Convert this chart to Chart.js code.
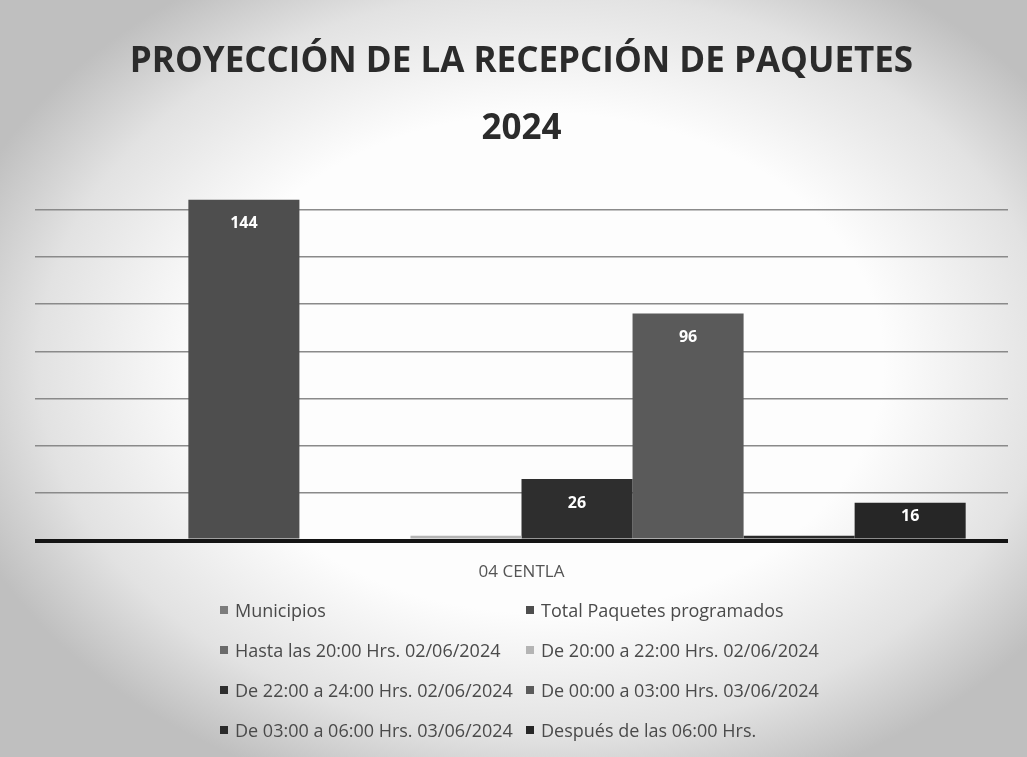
<!DOCTYPE html>
<html lang="es">
<head>
<meta charset="utf-8">
<title>Proyección de la recepción de paquetes 2024</title>
<script src="https://cdn.jsdelivr.net/npm/chart.js@4.4.1/dist/chart.umd.min.js"></script>
<style>
    html, body {
        margin: 0;
        padding: 0;
        width: 1027px;
        height: 757px;
        overflow: hidden;
    }
    body {
        position: relative;
        background: radial-gradient(ellipse 60% 60% at 53% 48%, #fdfdfd 55%, #e2e2e2 82%, #bfbfbf 100%);
        font-family: "Open Sans", sans-serif;
    }
    #wrap {
        position: absolute;
        left: 0;
        top: 0;
        width: 1027px;
        height: 757px;
    }
    #legend {
        position: absolute;
        left: 220px;
        top: 595px;
        display: grid;
        grid-template-columns: 306px 320px;
        row-gap: 10px;
        color: #4a4a4a;
        font-size: 18px;
    }
    #legend .item {
        display: flex;
        align-items: center;
        height: 30px;
        white-space: nowrap;
    }
    #legend .box {
        width: 8px;
        height: 8px;
        margin-right: 7px;
        display: inline-block;
    }
</style>
</head>
<body>
<div id="wrap"><canvas id="receptionChart" width="1027" height="757"></canvas></div>
<div id="legend"></div>

<script>
// Datos de la gráfica
const categories = ['04 CENTLA'];
const seriesNames = [
    'Municipios',
    'Total Paquetes programados',
    'Hasta las 20:00 Hrs. 02/06/2024',
    'De 20:00 a 22:00 Hrs. 02/06/2024',
    'De 22:00 a 24:00 Hrs. 02/06/2024',
    'De 00:00 a 03:00 Hrs. 03/06/2024',
    'De 03:00 a 06:00 Hrs. 03/06/2024',
    'Después de las 06:00 Hrs.'
];
const seriesValues = [null, 144, 0, 2, 26, 96, 2, 16];
const seriesColors = ['#7c7c7c', '#4e4e4e', '#6a6a6a', '#b4b4b4', '#2e2e2e', '#5a5a5a', '#2a2a2a', '#262626'];
const yTicks = [0, 20, 40, 60, 80, 100, 120, 140, 160];

// Etiquetas de valor dentro del extremo de cada barra
const barLabels = {
    id: 'barLabels',
    afterDatasetsDraw(chart) {
        const ctx = chart.ctx;
        ctx.save();
        ctx.fillStyle = '#ffffff';
        ctx.font = 'bold 16px "Open Sans"';
        ctx.textAlign = 'center';
        ctx.textBaseline = 'middle';
        chart.data.datasets.forEach((ds, i) => {
            const meta = chart.getDatasetMeta(i);
            meta.data.forEach((bar, j) => {
                const value = ds.data[j];
                const h = bar.base - bar.y;
                if (value == null || h < 20) return;
                const offset = Math.min(24, h / 2 - 4);
                ctx.fillText(String(value), bar.x, bar.y + offset);
            });
        });
        ctx.restore();
    }
};

const ctx = document.getElementById('receptionChart').getContext('2d');
const receptionChart = new Chart(ctx, {
    type: 'bar',
    data: {
        labels: categories,
        datasets: seriesNames.map((name, i) => ({
            label: name,
            data: [seriesValues[i]],
            backgroundColor: seriesColors[i],
            borderWidth: 0,
            categoryPercentage: 0.913,
            barPercentage: 1.0
        }))
    },
    options: {
        responsive: false,
        animation: false,
        layout: {
            padding: { left: 35, right: 19, top: 0, bottom: 154 }
        },
        plugins: {
            legend: { display: false },
            tooltip: { enabled: false },
            title: {
                display: true,
                text: ['PROYECCIÓN DE LA RECEPCIÓN DE PAQUETES', '2024'],
                color: '#2b2b2b',
                font: { family: '"Open Sans"', size: 35, weight: 'bold', lineHeight: 1.9 },
                padding: { top: 29, bottom: 0 }
            }
        },
        scales: {
            x: {
                grid: { display: false, drawTicks: false },
                border: { display: false },
                ticks: {
                    color: '#555555',
                    padding: 21,
                    font: { family: '"Open Sans"', size: 17 }
                }
            },
            y: {
                min: yTicks[0],
                max: yTicks[yTicks.length - 1],
                afterBuildTicks: scale => {
                    scale.ticks = yTicks.map(v => ({ value: v }));
                },
                ticks: { display: false },
                border: { display: false },
                grid: {
                    drawTicks: false,
                    color: c => {
                        if (c.tick.value === 0) return '#141414';
                        if (c.tick.value === 160) return 'rgba(0,0,0,0)';
                        return '#8a8a8a';
                    },
                    lineWidth: c => (c.tick.value === 0 ? 4 : 1.6)
                }
            }
        }
    },
    plugins: [barLabels]
});

// Leyenda en HTML, dos columnas
const legendEl = document.getElementById('legend');
Chart.defaults.plugins.legend.labels.generateLabels(receptionChart).forEach(item => {
    const div = document.createElement('div');
    div.className = 'item';
    const box = document.createElement('span');
    box.className = 'box';
    box.style.background = item.fillStyle;
    div.appendChild(box);
    div.appendChild(document.createTextNode(item.text));
    legendEl.appendChild(div);
});
</script>
</body>
</html>
